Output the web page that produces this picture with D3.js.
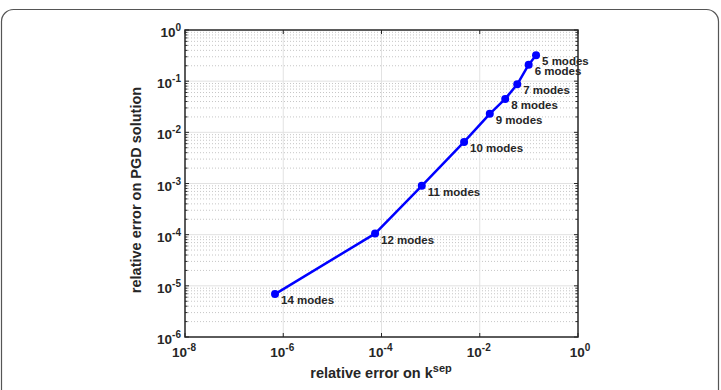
<!DOCTYPE html>
<html>
<head>
<meta charset="utf-8">
<script src="https://cdn.jsdelivr.net/npm/d3@7"></script>
<style>
  body { margin: 0; background: #fff; }
  svg { display: block; font-family: "Liberation Sans", Arial, sans-serif; }
</style>
</head>
<body>
<svg width="721" height="390"></svg>
<script>
// data
let errK   = [0.14, 0.099, 0.058, 0.033, 0.016, 0.0048, 0.00066, 0.000074, 0.00000068]
let errPGD = [0.32, 0.21, 0.087, 0.045, 0.023, 0.0065, 0.00090, 0.000105, 0.0000069]
let modeLabels = ['5 modes', '6 modes', '7 modes', '8 modes', '9 modes', '10 modes', '11 modes', '12 modes', '14 modes']
let xTickExp = [-8, -6, -4, -2, 0]
let yTickExp = [-6, -5, -4, -3, -2, -1, 0]

let width = 721
let height = 390
let padLeft = 185, padRight = 578, padTop = 30, padBottom = 337

let svg = d3.select('svg')

// outer card frame
svg.append('rect')
   .attr('x', 1.5).attr('y', 9.5)
   .attr('width', 717).attr('height', 420)
   .attr('rx', 12)
   .attr('fill', '#fff')
   .attr('stroke', '#555')
   .attr('stroke-width', 1.2)

let xScale = d3.scaleLog().domain([1e-8, 1]).range([padLeft, padRight])
let yScale = d3.scaleLog().domain([1e-6, 1]).range([padBottom, padTop])

// minor values for y (2..9 in each decade)
let yMinor = []
for (let e = -6; e < 0; e++) {
    for (let m = 2; m <= 9; m++) yMinor.push(m * Math.pow(10, e))
}

let grid = svg.append('g')

grid.selectAll('.yminor')
    .data(yMinor)
    .enter()
    .append('line')
    .attr('x1', padLeft).attr('x2', padRight)
    .attr('y1', d => yScale(d)).attr('y2', d => yScale(d))
    .attr('stroke', '#b8b8b8')
    .attr('stroke-width', 0.8)
    .attr('stroke-dasharray', '1,2')

grid.selectAll('.ymajor')
    .data(yTickExp.slice(1, -1))
    .enter()
    .append('line')
    .attr('x1', padLeft).attr('x2', padRight)
    .attr('y1', d => yScale(Math.pow(10, d))).attr('y2', d => yScale(Math.pow(10, d)))
    .attr('stroke', '#e2e2e2')
    .attr('stroke-width', 1)

grid.selectAll('.xmajor')
    .data(xTickExp.slice(1, -1))
    .enter()
    .append('line')
    .attr('y1', padTop).attr('y2', padBottom)
    .attr('x1', d => xScale(Math.pow(10, d))).attr('x2', d => xScale(Math.pow(10, d)))
    .attr('stroke', '#e2e2e2')
    .attr('stroke-width', 1)

// tick marks (inside, both sides)
let ticks = svg.append('g').attr('stroke', '#262626')

yMinor.forEach(v => {
    let y = yScale(v)
    ticks.append('line').attr('x1', padLeft).attr('x2', padLeft + 2.5).attr('y1', y).attr('y2', y)
    ticks.append('line').attr('x1', padRight).attr('x2', padRight - 2.5).attr('y1', y).attr('y2', y)
})
yTickExp.forEach(e => {
    let y = yScale(Math.pow(10, e))
    ticks.append('line').attr('x1', padLeft).attr('x2', padLeft + 4).attr('y1', y).attr('y2', y)
    ticks.append('line').attr('x1', padRight).attr('x2', padRight - 4).attr('y1', y).attr('y2', y)
})
xTickExp.forEach(e => {
    let x = xScale(Math.pow(10, e))
    ticks.append('line').attr('x1', x).attr('x2', x).attr('y1', padBottom).attr('y2', padBottom - 4)
    ticks.append('line').attr('x1', x).attr('x2', x).attr('y1', padTop).attr('y2', padTop + 4)
})

// axes box
svg.append('rect')
   .attr('x', padLeft).attr('y', padTop)
   .attr('width', padRight - padLeft).attr('height', padBottom - padTop)
   .attr('fill', 'none')
   .attr('stroke', '#262626')
   .attr('stroke-width', 1.5)

// tick labels
let addPow = (g, e) => {
    g.append('tspan').text('10')
    g.append('tspan').attr('dy', -6).attr('font-size', 10).text(e)
}

svg.selectAll('.xlab')
   .data(xTickExp)
   .enter()
   .append('text')
   .attr('x', d => xScale(Math.pow(10, d)) + (d < 0 ? -1 : 2))
   .attr('y', 357)
   .attr('text-anchor', 'middle')
   .attr('font-size', 13.5)
   .attr('font-weight', 'bold')
   .attr('fill', '#262626')
   .each(function(d) { addPow(d3.select(this), d) })

svg.selectAll('.ylab')
   .data(yTickExp)
   .enter()
   .append('text')
   .attr('x', 181)
   .attr('y', d => yScale(Math.pow(10, d)) + 7)
   .attr('text-anchor', 'end')
   .attr('font-size', 13.5)
   .attr('font-weight', 'bold')
   .attr('fill', '#262626')
   .each(function(d) { addPow(d3.select(this), d) })

// axis titles
let xt = svg.append('text')
   .attr('x', 381).attr('y', 378)
   .attr('text-anchor', 'middle')
   .attr('font-size', 14.5)
   .attr('font-weight', 'bold')
   .attr('fill', '#262626')
xt.append('tspan').text('relative error on k')
xt.append('tspan').attr('dy', -6).attr('font-size', 11).text('sep')

svg.append('text')
   .attr('transform', 'translate(141,190) rotate(-90)')
   .attr('text-anchor', 'middle')
   .attr('font-size', 14.5)
   .attr('font-weight', 'bold')
   .attr('fill', '#262626')
   .text('relative error on PGD solution')

// series
let pts = errK.map((v, i) => [v, errPGD[i]])

let line = d3.line()
    .x(d => xScale(d[0]))
    .y(d => yScale(d[1]))

svg.append('path')
   .attr('d', line(pts))
   .attr('fill', 'none')
   .attr('stroke', '#0000ff')
   .attr('stroke-width', 2.5)
   .attr('stroke-linejoin', 'round')

svg.selectAll('circle')
   .data(pts)
   .enter()
   .append('circle')
   .attr('cx', d => xScale(d[0]))
   .attr('cy', d => yScale(d[1]))
   .attr('r', 4)
   .attr('fill', '#0000ff')

svg.selectAll('.mlab')
   .data(pts)
   .enter()
   .append('text')
   .attr('x', d => xScale(d[0]) + 6)
   .attr('y', d => yScale(d[1]) + 10)
   .attr('font-size', 11.5)
   .attr('font-weight', 'bold')
   .attr('fill', '#262626')
   .text((d, i) => modeLabels[i])
</script>
</body>
</html>
